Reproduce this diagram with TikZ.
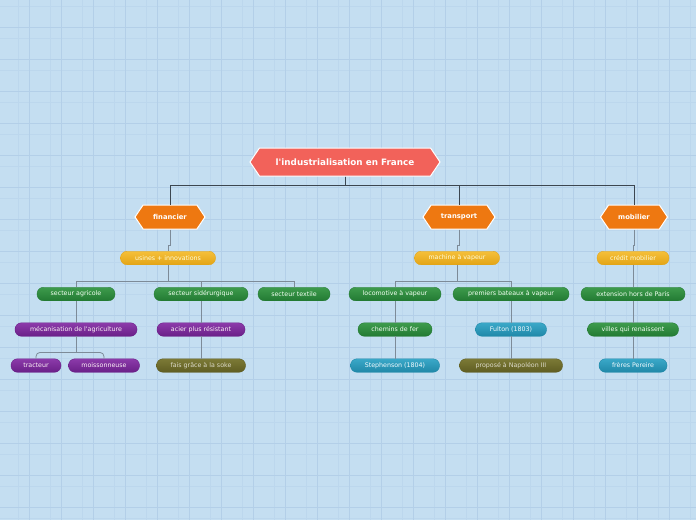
\documentclass[tikz,border=0pt]{standalone}
\usepackage{fontspec}
\setmainfont{DejaVu Sans}
\usepackage{xcolor}
\usepackage{tikz}
\usetikzlibrary{shapes.symbols}
\definecolor{paper}{HTML}{C4DEF1}
\definecolor{gridlo}{HTML}{BCD7ED}
\definecolor{gridhi}{HTML}{B3CFE8}
\definecolor{rootred}{HTML}{F2625A}
\definecolor{orng}{HTML}{EE7811}
\definecolor{yeltop}{HTML}{F5C03A}
\definecolor{yelbot}{HTML}{E3A416}
\definecolor{grntop}{HTML}{3D9B4C}
\definecolor{grnbot}{HTML}{237A33}
\definecolor{purtop}{HTML}{8C3AAA}
\definecolor{purbot}{HTML}{6A1F88}
\definecolor{teatop}{HTML}{3BA8C8}
\definecolor{teabot}{HTML}{1F88A8}
\definecolor{olvtop}{HTML}{7C7A36}
\definecolor{olvbot}{HTML}{5F5D22}
\definecolor{trunkc}{HTML}{3C4650}
\definecolor{branchc}{HTML}{7D8B98}
\tikzset{
  hexa/.style={signal, signal to=west and east, signal pointer angle=112, draw=white,
    line width=1pt, inner sep=0pt, text=white},
  rootbox/.style={hexa, fill=rootred, minimum height=28pt, font=\fontsize{8.8}{10}\selectfont\bfseries},
  lvone/.style={hexa, fill=orng, minimum height=24pt, font=\fontsize{6.8}{8}\selectfont\bfseries},
  pill/.style={rounded corners=6.5pt, minimum height=13.5pt, inner sep=0pt, line width=0.4pt,
    font=\fontsize{6.3}{7.3}\selectfont},
  yel/.style={pill, top color=yeltop, bottom color=yelbot, draw=yelbot, text=yellow!15},
  grn/.style={pill, top color=grntop, bottom color=grnbot, draw=grnbot, text=green!5!white},
  pur/.style={pill, top color=purtop, bottom color=purbot, draw=purbot, text=purple!5!white},
  tea/.style={pill, top color=teatop, bottom color=teabot, draw=teabot, text=cyan!5!white},
  olv/.style={pill, top color=olvtop, bottom color=olvbot, draw=olvbot, text=yellow!20!gray!40!white},
  trunk/.style={draw=trunkc, line width=1pt},
  branch/.style={draw=branchc, line width=0.8pt},
}
\begin{document}
\begin{tikzpicture}[x=1pt,y=-1pt]
  % background and grid
  \fill[paper] (0,0) rectangle (696,520);
  \useasboundingbox (0,0) rectangle (696,520);
  \foreach \x in {18,50,...,696} \draw[gridlo, line width=0.5pt] (\x,0) -- (\x,520);
  \foreach \y in {6,38,...,520} \draw[gridlo, line width=0.5pt] (0,\y) -- (696,\y);
  \foreach \x in {29,61,...,696} \draw[gridhi, line width=0.7pt] (\x,0) -- (\x,520);
  \foreach \y in {27,59,...,520} \draw[gridhi, line width=0.7pt] (0,\y) -- (696,\y);

  % nodes
  \node[rootbox, minimum width=190pt] (root) at (345,162) {l\textquotesingle industrialisation en France};
  \node[lvone, minimum width=70pt] (fin) at (170,217) {financier};
  \node[lvone, minimum width=72pt] (trans) at (459,217) {transport};
  \node[lvone, minimum width=67pt] (mob) at (634,217) {mobilier};

  \node[yel, minimum width=95pt] (usines) at (168,258) {usines + innovations};
  \node[yel, minimum width=85pt] (machine) at (457,258) {machine à vapeur};
  \node[yel, minimum width=72pt] (credit) at (633,258) {crédit mobilier};

  \node[grn, minimum width=78pt] (agri) at (76,294) {secteur agricole};
  \node[grn, minimum width=94pt] (sider) at (201,294) {secteur sidérurgique};
  \node[grn, minimum width=72pt] (textile) at (294,294) {secteur textile};
  \node[grn, minimum width=92pt] (loco) at (395,294) {locomotive à vapeur};
  \node[grn, minimum width=116pt] (bateaux) at (511,294) {premiers bateaux à vapeur};
  \node[grn, minimum width=104pt] (extension) at (633,294) {extension hors de Paris};

  \node[pur, minimum width=122pt] (meca) at (76,329.5) {mécanisation de l\textquotesingle agriculture};
  \node[pur, minimum width=88pt] (acier) at (201,329.5) {acier plus \raisebox{-0.6pt}{résistant}};
  \node[grn, minimum width=74pt] (chemins) at (395,329.5) {chemins de fer};
  \node[tea, minimum width=71pt] (fulton) at (511,329.5) {Fulton (1803)};
  \node[grn, minimum width=91pt] (villes) at (633,329.5) {villes qui renaissent};

  \node[pur, minimum width=50pt] (tracteur) at (36,365.5) {tracteur};
  \node[pur, minimum width=71pt] (moiss) at (104,365.5) {moissonneuse};
  \node[olv, minimum width=89pt] (soke) at (201,365.5) {fais grâce à la soke};
  \node[tea, minimum width=89pt] (steph) at (395,365.5) {Stephenson (1804)};
  \node[olv, minimum width=103pt] (napo) at (511,365.5) {proposé à Napoléon III};
  \node[tea, minimum width=68pt] (pereire) at (633,365.5) {frères Pereire};

  % connectors
  \draw[trunk] (root.south) -- ++(0,9) -| (fin.north);
  \draw[trunk] (root.south) -- ++(0,9) -| (trans.north);
  \draw[trunk] (root.south) -- ++(0,9) -| (mob.north);
  \draw[branch] (fin.south) -- ++(0,16) -| (usines.north);
  \draw[branch] (trans.south) -- ++(0,16) -| (machine.north);
  \draw[branch] (mob.south) -- ++(0,16) -| (credit.north);
  \foreach \n in {agri,sider,textile}
    \draw[branch] (usines.south) -- ++(0,16) -| (\n.north);
  \foreach \n in {loco,bateaux}
    \draw[branch] (machine.south) -- ++(0,16) -| (\n.north);
  \draw[branch] (credit) -- (extension);
  \draw[branch] (agri) -- (meca);
  \draw[branch] (sider) -- (acier);
  \draw[branch] (acier) -- (soke);
  \draw[branch] (loco) -- (chemins);
  \draw[branch] (chemins) -- (steph);
  \draw[branch] (bateaux) -- (fulton);
  \draw[branch] (fulton) -- (napo);
  \draw[branch] (extension) -- (villes);
  \draw[branch] (villes) -- (pereire);
  \draw[branch] (meca.south) -- ++(0,16) coordinate (fork);
  \draw[branch, rounded corners=4pt] (tracteur.north) |- (fork) -| (moiss.north);
\end{tikzpicture}
\end{document}
